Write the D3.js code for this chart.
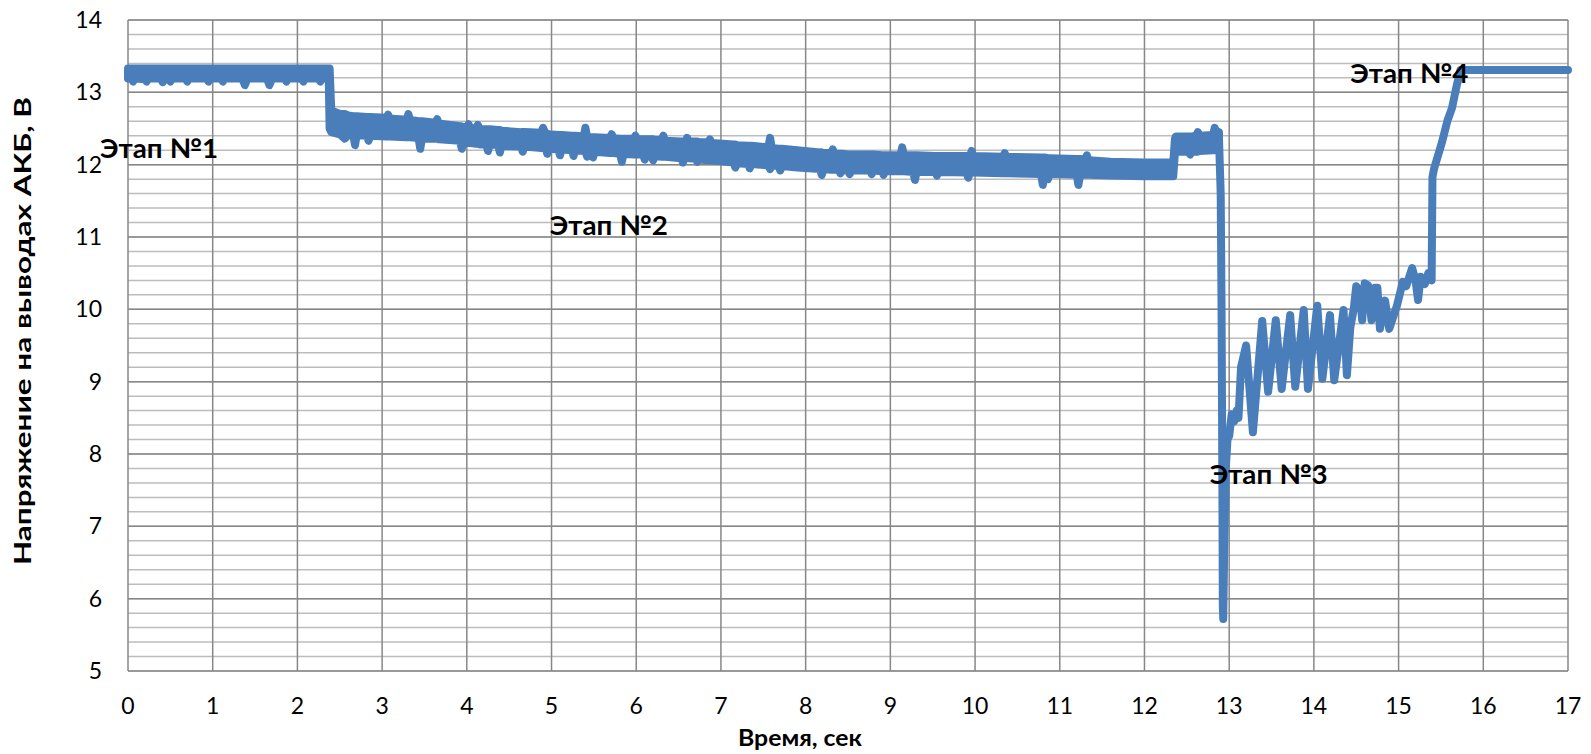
<!DOCTYPE html>
<html>
<head>
<meta charset="utf-8">
<script src="https://cdn.jsdelivr.net/npm/d3@7"></script>
<style>
  body { margin: 0; background: #fff; }
  text { font-family: Lato, "Open Sans", sans-serif; fill: #000; }
</style>
</head>
<body>
<svg class="chart"></svg>
<script>
const width = 1591;
const height = 754;

// x ticks (seconds) and y ticks (volts)
const xTicks = d3.range(0, 18);
const yTicks = d3.range(5, 15);
const yMinor = d3.range(5, 14.01, 0.2);

// noisy part of the record as an envelope: [time, low, high]
const band = [
  [0.00, 13.19, 13.33], [0.04, 13.19, 13.33], [0.06, 13.15, 13.33], [0.08, 13.19, 13.33],
  [0.20, 13.18, 13.33], [0.22, 13.15, 13.33], [0.24, 13.19, 13.33], [0.39, 13.19, 13.33],
  [0.41, 13.14, 13.33], [0.43, 13.19, 13.33], [0.48, 13.19, 13.33], [0.50, 13.15, 13.33],
  [0.52, 13.19, 13.33], [0.68, 13.19, 13.33], [0.70, 13.15, 13.33], [0.72, 13.19, 13.33],
  [0.93, 13.19, 13.33], [0.95, 13.15, 13.33], [0.97, 13.19, 13.33], [1.10, 13.19, 13.33],
  [1.12, 13.15, 13.33], [1.14, 13.19, 13.33], [1.35, 13.19, 13.33], [1.38, 13.10, 13.33],
  [1.41, 13.19, 13.33], [1.64, 13.19, 13.33], [1.67, 13.10, 13.33], [1.70, 13.19, 13.33],
  [1.85, 13.19, 13.33], [1.87, 13.15, 13.33], [1.89, 13.19, 13.33], [2.05, 13.19, 13.33],
  [2.07, 13.15, 13.33], [2.09, 13.19, 13.33], [2.25, 13.19, 13.33], [2.27, 13.15, 13.33],
  [2.29, 13.19, 13.33], [2.37, 13.19, 13.33], [2.38, 12.50, 13.33],
  [2.40, 12.45, 12.75], [2.50, 12.42, 12.70], [2.56, 12.36, 12.70], [2.60, 12.41, 12.68],
  [2.66, 12.41, 12.67], [2.68, 12.27, 12.67], [2.70, 12.41, 12.67], [2.82, 12.40, 12.66],
  [2.84, 12.33, 12.66], [2.86, 12.40, 12.66], [3.05, 12.39, 12.65], [3.07, 12.39, 12.69],
  [3.09, 12.39, 12.64], [3.29, 12.38, 12.62], [3.31, 12.38, 12.70], [3.33, 12.38, 12.62],
  [3.43, 12.37, 12.60], [3.45, 12.22, 12.60], [3.47, 12.36, 12.60], [3.63, 12.36, 12.58],
  [3.65, 12.36, 12.63], [3.67, 12.35, 12.57], [3.92, 12.33, 12.53], [3.94, 12.22, 12.53],
  [3.96, 12.31, 12.52], [4.00, 12.30, 12.52], [4.02, 12.30, 12.56], [4.04, 12.30, 12.51],
  [4.11, 12.29, 12.50], [4.13, 12.29, 12.55], [4.15, 12.28, 12.49], [4.23, 12.28, 12.49],
  [4.25, 12.19, 12.49], [4.27, 12.28, 12.49], [4.37, 12.27, 12.48], [4.39, 12.17, 12.48],
  [4.41, 12.26, 12.47], [4.64, 12.25, 12.45], [4.66, 12.18, 12.45], [4.68, 12.25, 12.45],
  [4.88, 12.23, 12.44], [4.90, 12.23, 12.51], [4.93, 12.23, 12.43], [4.95, 12.15, 12.43],
  [4.97, 12.22, 12.42], [5.08, 12.21, 12.41], [5.10, 12.13, 12.41], [5.12, 12.21, 12.41],
  [5.24, 12.20, 12.40], [5.26, 12.12, 12.40], [5.28, 12.20, 12.40], [5.38, 12.19, 12.39],
  [5.40, 12.19, 12.51], [5.42, 12.11, 12.38], [5.44, 12.18, 12.38], [5.47, 12.18, 12.38],
  [5.49, 12.10, 12.38], [5.51, 12.18, 12.38], [5.69, 12.16, 12.37], [5.71, 12.16, 12.42],
  [5.73, 12.16, 12.37], [5.81, 12.15, 12.36], [5.83, 12.04, 12.36], [5.85, 12.15, 12.36],
  [5.97, 12.14, 12.36], [5.99, 12.14, 12.40], [6.01, 12.14, 12.35], [6.08, 12.14, 12.35],
  [6.10, 12.07, 12.35], [6.12, 12.13, 12.35], [6.18, 12.12, 12.35], [6.20, 12.06, 12.35],
  [6.22, 12.12, 12.34], [6.30, 12.11, 12.34], [6.32, 12.11, 12.40], [6.34, 12.11, 12.33],
  [6.53, 12.09, 12.32], [6.55, 12.03, 12.32], [6.57, 12.09, 12.32], [6.58, 12.09, 12.32],
  [6.60, 12.09, 12.37], [6.62, 12.09, 12.32], [6.70, 12.08, 12.32], [6.72, 12.04, 12.32],
  [6.74, 12.07, 12.31], [6.85, 12.06, 12.31], [6.87, 12.06, 12.35], [6.89, 12.06, 12.30],
  [7.15, 12.03, 12.28], [7.17, 11.96, 12.28], [7.19, 12.02, 12.27], [7.32, 12.01, 12.26],
  [7.34, 11.95, 12.26], [7.36, 12.01, 12.26], [7.56, 11.99, 12.24], [7.58, 11.94, 12.37],
  [7.60, 11.99, 12.23], [7.68, 11.98, 12.22], [7.70, 11.92, 12.22], [7.72, 11.98, 12.22],
  [7.90, 11.96, 12.20], [8.17, 11.94, 12.17], [8.19, 11.86, 12.17], [8.21, 11.94, 12.16],
  [8.30, 11.93, 12.16], [8.32, 11.93, 12.21], [8.34, 11.93, 12.15], [8.39, 11.93, 12.15],
  [8.41, 11.88, 12.15], [8.43, 11.93, 12.15], [8.50, 11.92, 12.14], [8.52, 11.87, 12.14],
  [8.54, 11.92, 12.14], [8.76, 11.92, 12.14], [8.78, 11.87, 12.14], [8.80, 11.92, 12.14],
  [8.90, 11.91, 12.13], [8.92, 11.86, 12.13], [8.94, 11.91, 12.13],
  [9.12, 11.91, 12.13], [9.14, 11.91, 12.24], [9.16, 11.91, 12.13], [9.27, 11.90, 12.13],
  [9.29, 11.79, 12.13], [9.31, 11.90, 12.13], [9.53, 11.90, 12.12], [9.55, 11.85, 12.12],
  [9.57, 11.90, 12.12], [9.90, 11.89, 12.12], [9.92, 11.82, 12.12], [9.94, 11.89, 12.12],
  [9.96, 11.89, 12.19], [9.98, 11.89, 12.12], [10.33, 11.88, 12.11], [10.35, 11.88, 12.16],
  [10.37, 11.88, 12.11], [10.78, 11.87, 12.10], [10.80, 11.72, 12.10], [10.82, 11.87, 12.10],
  [10.86, 11.80, 12.09], [10.88, 11.87, 12.09], [11.20, 11.86, 12.08], [11.22, 11.72, 12.08],
  [11.24, 11.86, 12.08], [11.30, 11.86, 12.07], [11.32, 11.86, 12.13], [11.34, 11.86, 12.06],
  [11.60, 11.85, 12.04], [12.00, 11.84, 12.03], [12.34, 11.84, 12.03], [12.36, 12.18, 12.36],
  [12.37, 12.18, 12.39], [12.52, 12.18, 12.39], [12.54, 12.14, 12.39], [12.56, 12.18, 12.39],
  [12.61, 12.18, 12.40], [12.63, 12.18, 12.45], [12.65, 12.19, 12.40], [12.81, 12.20, 12.41],
  [12.83, 12.20, 12.51], [12.85, 12.22, 12.42], [12.88, 12.25, 12.45]
];

// drop, oscillations and recovery: [time, volts]
const trace = [
  [12.88, 12.35], [12.90, 11.60], [12.91, 10.00], [12.92, 7.50], [12.925, 5.90],
  [12.93, 5.72], [12.94, 6.60], [12.96, 7.80], [12.98, 8.20], [13.00, 8.25],
  [13.03, 8.55], [13.06, 8.45], [13.09, 8.60], [13.11, 8.50], [13.14, 9.20],
  [13.20, 9.50], [13.28, 8.30], [13.39, 9.84], [13.46, 8.86], [13.55, 9.85],
  [13.62, 8.90], [13.72, 9.92], [13.78, 8.93], [13.88, 9.99], [13.93, 8.90],
  [14.04, 10.05], [14.10, 9.04], [14.19, 9.92], [14.24, 9.02], [14.35, 9.99],
  [14.39, 9.09], [14.43, 9.75], [14.47, 10.00], [14.50, 10.32], [14.54, 10.25],
  [14.57, 9.85], [14.60, 10.36], [14.64, 10.33], [14.68, 9.85], [14.72, 10.30],
  [14.75, 10.30], [14.78, 9.73], [14.84, 10.12], [14.89, 9.73], [14.98, 10.05],
  [15.05, 10.38], [15.09, 10.32], [15.16, 10.57], [15.20, 10.40], [15.23, 10.13],
  [15.26, 10.45], [15.31, 10.35], [15.35, 10.50], [15.39, 10.40], [15.40, 11.83],
  [15.42, 11.95], [15.51, 12.30], [15.58, 12.62], [15.63, 12.78], [15.68, 13.06],
  [15.73, 13.31], [17.00, 13.31]
];

// stage labels, anchored at their left end / baseline
const stages = [
  { text: "Этап №1", t: -0.33, v: 12.09 },
  { text: "Этап №2", t: 4.98, v: 11.03 },
  { text: "Этап №3", t: 12.77, v: 7.59 },
  { text: "Этап №4", t: 14.43, v: 13.13 }
];

const blue = "#4a7ebb";

const svg = d3.select(".chart").attr("width", width).attr("height", height);
const x = d3.scaleLinear().domain([0, 17]).range([128, 1568]);
const y = d3.scaleLinear().domain([5, 14]).range([671, 20]);

// minor horizontal grid
svg.append("g").selectAll("line")
  .data(yMinor)
  .enter().append("line")
  .attr("x1", x(0)).attr("x2", x(17))
  .attr("y1", d => y(d)).attr("y2", d => y(d))
  .style("stroke", "#bdbdbd").style("stroke-width", 1.5);

// major grid
svg.append("g").selectAll("line")
  .data(yTicks)
  .enter().append("line")
  .attr("x1", x(0)).attr("x2", x(17))
  .attr("y1", d => y(d)).attr("y2", d => y(d))
  .style("stroke", "#878787").style("stroke-width", 1.5);
svg.append("g").selectAll("line")
  .data(xTicks)
  .enter().append("line")
  .attr("x1", d => x(d)).attr("x2", d => x(d))
  .attr("y1", y(5)).attr("y2", y(14))
  .style("stroke", "#878787").style("stroke-width", 1.5);

// tick labels
svg.append("g").selectAll("text")
  .data(yTicks)
  .enter().append("text")
  .attr("x", x(0) - 26)
  .attr("y", d => y(d) + 8)
  .attr("text-anchor", "end")
  .style("font-size", "23px")
  .text(d => d);
svg.append("g").selectAll("text")
  .data(xTicks)
  .enter().append("text")
  .attr("x", d => x(d))
  .attr("y", 714)
  .attr("text-anchor", "middle")
  .style("font-size", "23px")
  .text(d => d);

// axis titles
svg.append("text")
  .attr("x", 800).attr("y", 746)
  .attr("text-anchor", "middle")
  .attr("textLength", 124).attr("lengthAdjust", "spacingAndGlyphs")
  .style("font-size", "22px").style("font-weight", "bold")
  .text("Время, сек");
svg.append("text")
  .attr("transform", "translate(31,331) rotate(-90)")
  .attr("text-anchor", "middle")
  .attr("textLength", 468).attr("lengthAdjust", "spacingAndGlyphs")
  .style("font-size", "22px").style("font-weight", "bold")
  .text("Напряжение на выводах АКБ, В");

// signal
const area = d3.area()
  .x(d => x(d[0]))
  .y0(d => y(d[1]))
  .y1(d => y(d[2]));
svg.append("path")
  .datum(band)
  .attr("d", area)
  .style("fill", blue)
  .style("stroke", blue)
  .style("stroke-width", 8)
  .style("stroke-linejoin", "round");

const line = d3.line()
  .x(d => x(d[0]))
  .y(d => y(d[1]));
svg.append("path")
  .datum(trace)
  .attr("d", line)
  .style("fill", "none")
  .style("stroke", blue)
  .style("stroke-width", 8)
  .style("stroke-linejoin", "round")
  .style("stroke-linecap", "round");

// stage labels
svg.append("g").selectAll("text")
  .data(stages)
  .enter().append("text")
  .attr("x", d => x(d.t))
  .attr("y", d => y(d.v))
  .attr("textLength", 118).attr("lengthAdjust", "spacingAndGlyphs")
  .style("font-size", "27px").style("font-weight", "bold")
  .text(d => d.text);
</script>
</body>
</html>
